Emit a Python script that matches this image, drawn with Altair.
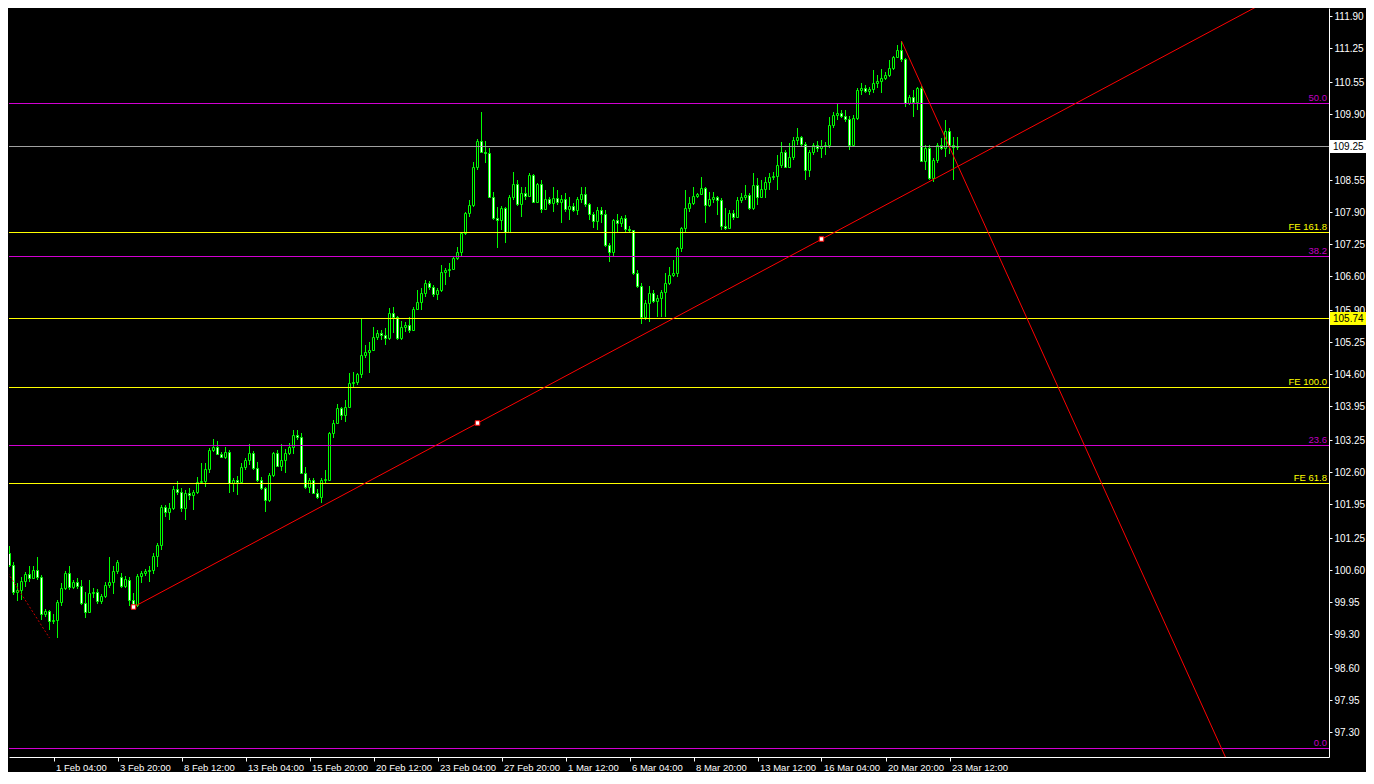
import json
import altair as alt
import pandas as pd

# ---------------- data (H4 candles) ----------------
bar_open = [101.42,101.18,100.95,100.71,100.16,100.20,100.38,100.52,100.44,100.61,
100.46,99.71,99.77,99.57,99.59,99.95,100.24,100.54,100.26,100.36,
100.28,99.93,99.75,100.14,100.16,99.97,100.08,100.30,100.36,100.58,
100.46,100.28,100.40,99.99,99.89,100.48,100.54,100.58,100.61,100.89,
101.12,101.89,101.79,101.87,102.26,102.20,101.87,102.17,102.13,102.20,
102.40,102.42,102.66,103.05,103.11,102.97,102.91,103.01,102.38,102.44,
102.40,102.71,102.85,102.99,102.68,102.44,102.28,102.03,102.54,102.99,
102.73,102.85,102.99,103.11,103.36,103.32,102.58,102.30,102.44,102.17,
102.09,102.44,102.44,103.40,103.60,103.91,103.77,103.93,104.42,104.44,
104.60,104.99,105.05,105.09,105.35,105.44,105.40,105.33,105.84,105.76,
105.33,105.56,105.60,105.50,105.92,106.07,106.25,106.46,106.37,106.23,
106.31,106.68,106.72,106.74,106.97,107.09,107.48,107.88,108.05,108.82,
109.35,109.13,109.11,108.21,107.78,107.74,107.98,107.50,108.21,108.48,
108.07,108.29,108.23,108.66,108.11,108.48,107.97,108.17,108.09,108.19,
108.11,108.17,107.97,108.03,107.95,108.17,108.27,108.07,107.86,107.72,
107.95,107.86,107.23,107.09,107.74,107.68,107.78,107.56,107.54,106.66,
106.39,105.76,106.05,106.25,106.09,106.15,106.27,106.46,106.62,106.66,
107.17,107.58,107.98,108.09,108.23,108.27,108.39,108.05,108.17,108.21,
108.15,107.62,107.58,107.88,107.80,108.15,108.21,108.25,107.98,108.45,
108.21,108.37,108.52,108.62,108.64,108.86,109.13,108.82,109.02,109.37,
109.43,109.29,108.76,109.13,109.27,109.21,109.25,109.27,109.68,109.88,
109.92,109.86,109.80,109.27,109.82,110.39,110.43,110.37,110.41,110.53,
110.57,110.64,110.70,110.84,111.06,111.21,111.02,110.13,110.25,110.15,
110.43,108.94,109.21,108.60,108.96,109.27,109.21,109.55,109.27,109.23]

bar_high = [101.50,101.26,101.09,100.77,100.34,100.46,100.56,100.69,100.69,100.87,
100.50,99.81,99.79,99.71,99.99,100.34,100.58,100.69,100.40,100.44,
100.40,100.16,100.40,100.24,100.22,100.12,100.36,100.87,100.69,100.81,
100.54,100.48,100.46,100.14,100.52,100.58,100.63,100.69,100.95,101.16,
101.93,101.93,101.97,102.32,102.42,102.28,102.24,102.28,102.24,102.50,
102.79,102.79,103.09,103.28,103.24,103.01,103.11,103.05,102.48,102.52,
102.79,102.89,103.17,103.03,102.81,102.50,102.30,102.58,103.01,103.05,
103.17,103.07,103.19,103.46,103.46,103.40,102.71,102.48,102.48,102.26,
102.48,102.64,103.42,103.66,103.99,103.93,104.07,104.62,104.64,104.62,
105.74,105.19,105.25,105.56,105.50,105.50,105.54,105.95,105.97,105.78,
105.68,105.66,105.76,105.97,106.31,106.35,106.52,106.50,106.42,106.35,
106.82,106.76,106.86,106.99,107.19,107.50,107.90,108.15,108.92,109.39,
109.94,109.35,109.21,108.31,108.00,108.03,108.00,108.25,108.72,108.56,
108.41,108.41,108.70,108.68,108.50,108.56,108.35,108.21,108.41,108.35,
108.25,108.29,108.21,108.09,108.21,108.41,108.41,108.09,107.90,108.00,
108.00,107.95,107.27,107.76,107.86,107.82,107.84,107.62,107.54,106.72,
106.46,106.11,106.39,106.31,106.21,106.31,106.66,106.78,106.93,107.19,
107.60,108.35,108.21,108.41,108.29,108.62,108.41,108.31,108.31,108.23,
108.19,107.98,107.95,107.95,108.21,108.29,108.45,108.29,108.70,108.60,
108.56,108.62,108.70,108.72,109.07,109.33,109.17,109.31,109.43,109.62,
109.45,109.33,109.17,109.31,109.35,109.37,109.33,109.84,109.94,110.11,
109.98,109.98,109.86,109.88,110.43,110.53,110.49,110.45,110.80,110.70,
110.82,110.76,111.00,111.08,111.31,111.39,111.04,110.29,110.39,110.45,
110.47,109.27,109.27,109.00,109.31,109.41,109.78,109.62,109.43,109.43]

bar_low = [101.12,100.89,100.67,100.10,99.97,99.99,100.26,100.36,100.42,100.40,
99.59,99.65,99.38,99.50,99.22,99.87,100.20,100.20,100.22,100.22,
99.89,99.63,99.73,100.03,99.91,99.91,100.03,100.24,100.12,100.52,
100.24,100.24,99.87,99.83,99.85,100.34,100.48,100.36,100.52,100.67,
101.01,101.69,101.63,101.83,102.13,101.79,101.63,102.03,101.83,102.15,
102.36,102.30,102.58,103.01,102.95,102.89,102.87,102.17,102.20,102.13,
102.38,102.64,102.75,102.64,102.40,102.24,101.79,101.99,102.50,102.71,
102.62,102.58,102.95,102.97,103.26,102.56,102.26,102.17,102.15,102.05,
101.97,102.38,102.42,103.30,103.58,103.66,103.62,103.91,104.34,104.38,
104.52,104.93,104.62,105.07,105.29,105.29,105.19,105.29,105.44,105.29,
105.29,105.46,105.44,105.50,105.91,105.91,106.17,106.31,106.17,106.11,
106.27,106.42,106.58,106.72,106.93,107.01,107.43,107.80,108.00,108.76,
109.11,108.90,108.19,107.74,107.17,107.54,107.27,107.48,108.15,108.03,
107.80,108.15,108.21,108.11,108.09,107.88,107.95,108.05,107.90,108.05,
107.68,107.90,107.74,107.90,107.84,108.09,108.00,107.74,107.58,107.54,
107.68,107.19,106.88,106.99,107.48,107.60,107.50,107.48,106.62,106.35,
105.62,105.70,105.66,106.05,105.76,105.76,105.76,106.42,106.58,106.58,
107.09,107.48,107.90,108.05,108.19,108.25,107.68,108.00,108.09,107.84,
107.54,107.54,107.58,107.74,107.80,108.09,108.15,107.95,107.95,108.05,
108.19,108.19,108.35,108.56,108.35,108.80,108.82,108.80,108.96,109.27,
109.23,108.56,108.62,109.07,109.13,109.00,109.07,109.21,109.62,109.78,
109.82,109.74,109.17,109.23,109.78,110.29,110.33,110.29,110.33,110.43,
110.33,110.60,110.66,110.80,111.04,110.96,110.04,110.08,109.84,109.98,
108.92,108.76,108.56,108.52,108.90,109.17,109.03,109.09,108.56,109.17]

bar_close = [101.18,100.95,100.71,100.16,100.20,100.38,100.52,100.44,100.61,100.46,
99.71,99.77,99.57,99.59,99.95,100.24,100.54,100.26,100.36,100.28,
99.93,99.75,100.14,100.16,99.97,100.08,100.30,100.36,100.58,100.77,
100.28,100.42,99.99,99.89,100.48,100.54,100.58,100.61,100.89,101.12,
101.89,101.79,101.87,102.26,102.20,101.87,102.17,102.13,102.20,102.40,
102.42,102.66,103.05,103.11,102.97,102.91,103.01,102.38,102.44,102.40,
102.71,102.85,102.99,102.68,102.44,102.28,102.03,102.54,102.99,102.73,
102.85,102.99,103.11,103.36,103.32,102.58,102.30,102.44,102.17,102.09,
102.44,102.46,103.40,103.60,103.91,103.77,103.93,104.42,104.44,104.60,
104.99,105.05,105.09,105.35,105.44,105.40,105.33,105.84,105.76,105.33,
105.56,105.60,105.50,105.92,106.07,106.25,106.46,106.37,106.23,106.31,
106.68,106.72,106.74,106.97,107.09,107.48,107.88,108.05,108.82,109.35,
109.13,109.11,108.21,107.78,107.74,107.98,107.50,108.21,108.48,108.07,
108.29,108.23,108.66,108.11,108.48,107.97,108.17,108.09,108.19,108.11,
108.17,107.97,108.03,107.95,108.17,108.27,108.07,107.86,107.72,107.95,
107.86,107.23,107.09,107.74,107.68,107.78,107.56,107.54,106.66,106.39,
105.76,106.05,106.25,106.09,106.15,106.27,106.46,106.62,106.66,107.17,
107.58,107.98,108.09,108.23,108.27,108.39,108.05,108.17,108.21,108.15,
107.62,107.58,107.88,107.80,108.15,108.21,108.25,107.98,108.45,108.21,
108.37,108.52,108.62,108.64,108.86,109.13,108.82,109.02,109.37,109.43,
109.29,108.76,109.13,109.27,109.21,109.25,109.27,109.68,109.88,109.92,
109.86,109.80,109.27,109.82,110.39,110.43,110.37,110.41,110.53,110.57,
110.64,110.70,110.84,111.06,111.21,111.02,110.13,110.25,110.15,110.43,
108.94,109.21,108.60,108.96,109.27,109.21,109.55,109.27,109.23,109.25]

# time axis labels (one every 16 H4 bars)
time_labels = ["1 Feb 04:00", "3 Feb 20:00", "8 Feb 12:00", "13 Feb 04:00",
               "15 Feb 20:00", "20 Feb 12:00", "23 Feb 04:00", "27 Feb 20:00",
               "1 Mar 12:00", "6 Mar 04:00", "8 Mar 20:00", "13 Mar 12:00",
               "16 Mar 04:00", "20 Mar 20:00", "23 Mar 12:00"]
time_tick_bars = [13, 29, 45, 61, 77, 93, 109, 125, 141, 157, 173, 189, 205, 221, 237]

# price axis labels
price_ticks = [111.90, 111.25, 110.55, 109.90, 108.55, 107.90, 107.25, 106.60,
               105.90, 105.25, 104.60, 103.95, 103.25, 102.60, 101.95, 101.25,
               100.60, 99.95, 99.30, 98.60, 97.95, 97.30]

# Fibonacci retracement levels
fib_names = ["0.0", "23.6", "38.2", "50.0"]
fib_prices = [96.976, 103.154, 107.007, 110.126]

# Fibonacci expansion levels
fe_names = ["FE 61.8", "FE 100.0", "FE 161.8"]
fe_prices = [102.379, 104.336, 107.496]

# horizontal line and bid line
hline_price = 105.74
bid_price = 109.25

# trendline anchors (bar index, price)
tl1_bars = [33, 205]
tl1_prices = [99.85, 107.35]
tl2_bars = [225, 275]
tl2_prices = [111.39, 102.38]
dotted_bars = [0, 12]
dotted_prices = [100.75, 99.22]

# price boxes on the axis
box_prices = [109.25, 105.74]
box_text = ["109.25", "105.74"]
box_fill = ["#ffffff", "#ffff00"]

# ---------------- layout / style ----------------
W, H = 1320, 749
PX_PER_BAR = 4
PX_PER_UNIT = 49.05
X_MIN = 2 - 0.125
X_MAX = X_MIN + W / PX_PER_BAR
Y_MAX = 112.063
Y_MIN = Y_MAX - H / PX_PER_UNIT

FONT = "Liberation Sans"
FS = 9.5
FS_Y = 10
LIME = "#00ff00"
RED = "#ff0000"
MAG = "#d200d2"
MAG_TXT = "#c000c0"
YEL = "#ffff00"

xs = alt.Scale(domain=[X_MIN, X_MAX], nice=False, zero=False)
ys = alt.Scale(domain=[Y_MIN, Y_MAX], nice=False, zero=False, round=True)

x_axis = alt.Axis(values=time_tick_bars,
                  labelExpr=json.dumps(time_labels) + "[round((datum.value - 13) / 16)]",
                  orient="bottom", title=None, grid=False,
                  domainColor="#ffffff", tickColor="#ffffff", tickSize=4,
                  labelColor="#ffffff", labelFont=FONT, labelFontSize=FS,
                  labelAlign="left", labelBaseline="top", labelPadding=1,
                  labelOffset=2, labelFlush=False, labelOverlap=False)
y_axis = alt.Axis(values=price_ticks, format=".2f", orient="right", title=None,
                  grid=False, domainColor="#ffffff", tickColor="#ffffff",
                  tickSize=3, labelColor="#ffffff", labelFont=FONT,
                  labelFontSize=FS_Y, labelAlign="left", labelBaseline="middle",
                  labelPadding=2, labelFlush=False, labelOverlap=False)


def X(field):
    return alt.X(field + ":Q", scale=xs, axis=x_axis)


def Y(field):
    return alt.Y(field + ":Q", scale=ys, axis=y_axis)


df = pd.DataFrame({"bar": list(range(len(bar_open))), "o": bar_open,
                   "h": bar_high, "l": bar_low, "c": bar_close})

wicks = alt.Chart(df).mark_rule(color=LIME, strokeWidth=1, clip=True).encode(
    x=X("bar"), y=Y("l"), y2="h:Q")

bodies = alt.Chart(df).mark_rect(stroke=LIME, strokeWidth=1, xOffset=-1,
                                 x2Offset=1, yOffset=0.5, y2Offset=0.5,
                                 clip=True).encode(
    x=X("bar"), x2="bar:Q", y=Y("o"), y2="c:Q",
    fill=alt.condition("datum.c >= datum.o", alt.value("#000000"),
                       alt.value("#ffffff")))

fib_df = pd.DataFrame({"name": fib_names, "price": fib_prices})
fe_df = pd.DataFrame({"name": fe_names, "price": fe_prices})

fib_lines = alt.Chart(fib_df).mark_rule(color=MAG, strokeWidth=1, yOffset=0.5).encode(
    y=Y("price"))
fib_text = alt.Chart(fib_df).mark_text(color=MAG_TXT, font=FONT, fontSize=FS,
                                       align="right", baseline="bottom",
                                       dy=-0.5).encode(
    y=Y("price"), x=alt.value(W - 2), text="name:N")
fe_lines = alt.Chart(fe_df).mark_rule(color=YEL, strokeWidth=1, yOffset=0.5).encode(
    y=Y("price"))
fe_text = alt.Chart(fe_df).mark_text(color=YEL, font=FONT, fontSize=FS,
                                     align="right", baseline="bottom",
                                     dy=-0.5).encode(
    y=Y("price"), x=alt.value(W - 2), text="name:N")

hl = alt.Chart(pd.DataFrame({"price": [hline_price]})).mark_rule(
    color=YEL, strokeWidth=1, yOffset=0.5).encode(y=Y("price"))
bid = alt.Chart(pd.DataFrame({"price": [bid_price]})).mark_rule(
    color="#a0a0a0", strokeWidth=1, yOffset=0.5).encode(y=Y("price"))


def ray(bars, prices):
    slope = (prices[1] - prices[0]) / (bars[1] - bars[0])
    end_price = prices[0] + slope * (X_MAX - bars[0])
    return pd.DataFrame({"bar": [bars[0], X_MAX], "price": [prices[0], end_price]})


tl1 = alt.Chart(ray(tl1_bars, tl1_prices)).mark_line(
    color=RED, strokeWidth=1, clip=True).encode(x=X("bar"), y=Y("price"))
tl2 = alt.Chart(ray(tl2_bars, tl2_prices)).mark_line(
    color=RED, strokeWidth=1, clip=True).encode(x=X("bar"), y=Y("price"))
dotted = alt.Chart(pd.DataFrame({"bar": dotted_bars, "price": dotted_prices})).mark_line(
    color="#c80000", strokeWidth=1, strokeDash=[2, 2], clip=True).encode(
    x=X("bar"), y=Y("price"))

handles_df = pd.DataFrame({
    "bar": [tl1_bars[0], (tl1_bars[0] + tl1_bars[1]) / 2, tl1_bars[1]],
    "price": [tl1_prices[0], (tl1_prices[0] + tl1_prices[1]) / 2, tl1_prices[1]]})
handles = alt.Chart(handles_df).mark_point(shape="square", filled=True,
                                           fill="#ffffff", stroke=RED,
                                           strokeWidth=1, size=20, opacity=1).encode(
    x=X("bar"), y=Y("price"))

box_df = pd.DataFrame({"price": box_prices, "text": box_text, "fill": box_fill})
boxes = alt.Chart(box_df).mark_rect(yOffset=-6, y2Offset=7).encode(
    x=alt.value(W + 1), x2=alt.value(W + 37),
    y=Y("price"), y2="price:Q",
    fill=alt.Fill("fill:N", scale=None))
box_labels = alt.Chart(box_df).mark_text(color="#000000", font=FONT, fontSize=FS_Y,
                                         align="left", baseline="middle",
                                         dy=0.5).encode(
    x=alt.value(W + 4), y=Y("price"), text="text:N")

chart = alt.layer(
    wicks, bodies, fib_lines, fe_lines, hl, bid, dotted, tl1, tl2, handles,
    fib_text, fe_text, boxes, box_labels
).properties(
    width=W, height=H, padding=0, background="#000000"
).configure_view(strokeWidth=0)

chart.save("out.html", embed_options={"renderer": "svg", "actions": False})
